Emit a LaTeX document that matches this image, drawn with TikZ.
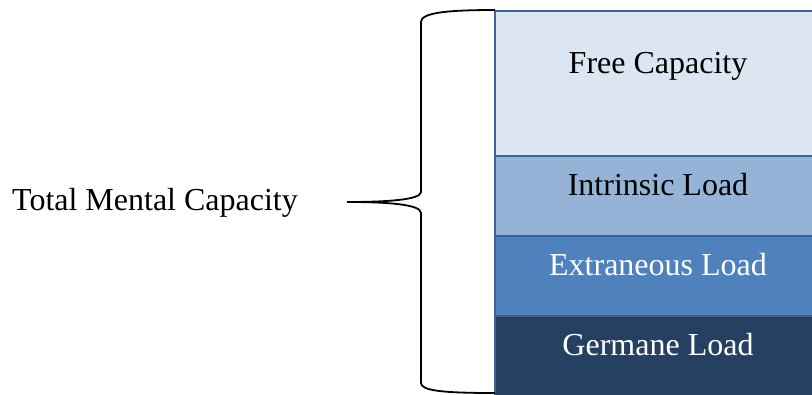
\documentclass[tikz,border=0pt]{standalone}
\usepackage{fontspec}
\setmainfont{Liberation Serif}
\definecolor{freec}{HTML}{DCE6F2}
\definecolor{intrc}{HTML}{95B3D7}
\definecolor{extrc}{HTML}{4F81BD}
\definecolor{germc}{HTML}{254061}
\definecolor{edgec}{HTML}{3E6394}
\begin{document}
\begin{tikzpicture}[x=1pt,y=-1pt,
  layer/.style={draw=edgec,line width=1.6pt,rectangle,minimum width=330pt,inner sep=0pt,anchor=north west},
  lbl/.style={font=\fontsize{32}{36}\selectfont,anchor=base,inner sep=0pt},
  bracepath/.style={draw=black,line width=1.8pt}]
\useasboundingbox (0,0) rectangle (812,394);
\node[layer,fill=freec,minimum height=145pt] (free) at (494,10) {};
\node[layer,fill=intrc,minimum height=80pt] (intr) at (494,155) {};
\node[layer,fill=extrc,minimum height=80pt] (extr) at (494,235) {};
\node[layer,fill=germc,minimum height=90pt] (germ) at (494,315) {};
\node[lbl] (tfree) at (658,73) {Free Capacity};
\node[lbl] (tintr) at (658,195) {Intrinsic Load};
\node[lbl,text=white] (textr) at (658,275) {Extraneous Load};
\node[lbl,text=white] (tgerm) at (658,355) {Germane Load};
\node[lbl] (total) at (155,210) {Total Mental Capacity};
\coordinate (btop) at (495,10);
\coordinate (btip) at (347,202);
\coordinate (bbot) at (495,393);
\draw[bracepath] (btop) .. controls (445,10) and (421,13) .. (421,22)
  -- (421,192) .. controls (421,200) and (385,202) .. (btip)
  .. controls (385,202) and (421,204) .. (421,213)
  -- (421,383) .. controls (421,391) and (445,393) .. (bbot);
\end{tikzpicture}
\end{document}
